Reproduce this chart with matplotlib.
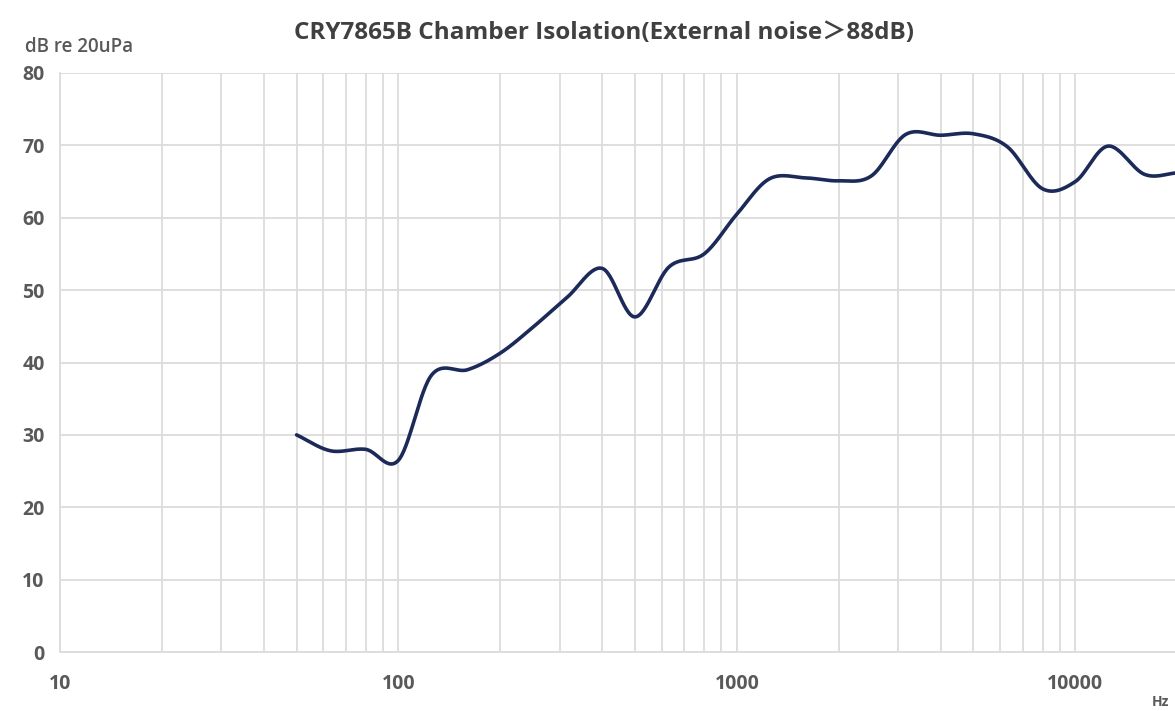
import numpy as np
import matplotlib
matplotlib.use("Agg")
import matplotlib.pyplot as plt
from matplotlib.ticker import FixedLocator, NullFormatter

# 1/3-octave frequencies (Hz) and isolation (dB)
freqs = [50, 63, 80, 100, 125, 160, 200, 250, 315, 400, 500, 630, 800,
         1000, 1250, 1600, 2000, 2500, 3150, 4000, 5000, 6300, 8000,
         10000, 12500, 16000, 20000]
isolation = [30.0, 27.8, 28.0, 26.5, 38.2, 39.0, 41.3, 44.9, 49.0, 53.0, 46.3, 53.2, 55.0,
             60.5, 65.4, 65.5, 65.1, 65.8, 71.5, 71.4, 71.6, 69.8, 64.0,
             65.0, 69.9, 66.0, 66.2]
x_ticks = [10, 100, 1000, 10000]
x_tick_labels = ["10", "100", "1000", "10000"]
y_ticks = [0, 10, 20, 30, 40, 50, 60, 70, 80]

title = "CRY7865B Chamber Isolation(External noise\uff1e88dB)"


def catmull_rom(xs, ys, n=30):
    xs = np.asarray(xs, float); ys = np.asarray(ys, float)
    px = np.concatenate([[2 * xs[0] - xs[1]], xs, [2 * xs[-1] - xs[-2]]])
    py = np.concatenate([[2 * ys[0] - ys[1]], ys, [2 * ys[-1] - ys[-2]]])
    ox, oy = [], []
    t = np.linspace(0, 1, n, endpoint=False)
    for i in range(1, len(px) - 2):
        for arr, out in ((px, ox), (py, oy)):
            p0, p1, p2, p3 = arr[i - 1], arr[i], arr[i + 1], arr[i + 2]
            m1 = (p2 - p0) / 2.0
            m2 = (p3 - p1) / 2.0
            h00 = 2 * t**3 - 3 * t**2 + 1
            h10 = t**3 - 2 * t**2 + t
            h01 = -2 * t**3 + 3 * t**2
            h11 = t**3 - t**2
            out.extend(h00 * p1 + h10 * m1 + h01 * p2 + h11 * m2)
    ox.append(xs[-1]); oy.append(ys[-1])
    return np.array(ox), np.array(oy)


plt.rcParams['font.family'] = ['Open Sans', 'Noto Sans CJK SC', 'DejaVu Sans']

fig = plt.figure(figsize=(11.75, 7.11), dpi=100)
ax = fig.add_axes([60 / 1175, 1 - 652 / 711, 1 - 60 / 1175, (652 - 73) / 711])

lx, ly = catmull_rom(np.log10(freqs), isolation)
ax.plot(10 ** lx, ly, color="#1c2a5a", lw=2.6, solid_capstyle="round", zorder=3, clip_on=False)

ax.set_xscale("log")
ax.set_xlim(10, 19700)
ax.set_ylim(0, 80)
ax.xaxis.set_major_locator(FixedLocator(x_ticks))
ax.set_xticklabels(x_tick_labels)
ax.xaxis.set_minor_locator(FixedLocator([m * 10 ** e for e in range(1, 5) for m in range(2, 10)]))
ax.xaxis.set_minor_formatter(NullFormatter())
ax.set_yticks(y_ticks)

grid_c = "#dcdcdc"
ax.grid(True, which="both", axis="x", color=grid_c, lw=1.3)
ax.grid(True, which="major", axis="y", color=grid_c, lw=1.3)
ax.set_axisbelow(True)
for s in ["top", "right"]:
    ax.spines[s].set_visible(False)
for s in ["left", "bottom"]:
    ax.spines[s].set_color(grid_c)
    ax.spines[s].set_linewidth(1.3)
ax.tick_params(which="both", length=0)
ax.tick_params(axis="y", pad=11, labelsize=14, labelcolor="#595959")
ax.tick_params(axis="x", pad=16, labelsize=14, labelcolor="#595959")
for lab in ax.get_xticklabels() + ax.get_yticklabels():
    lab.set_fontweight("bold")

fig.text(25 / 1175, 1 - 47 / 711, "dB re 20uPa", fontsize=13.5, color="#595959",
         fontweight="semibold", va="center", ha="left")
fig.text(604 / 1175, 1 - 33 / 711, title, fontsize=17.5, fontweight="bold",
         color="#404040", ha="center", va="center")
fig.text(1152 / 1175, 1 - 702 / 711, "Hz", fontsize=10, fontweight="bold",
         color="#595959", ha="left", va="center")

fig.savefig("out.png", dpi=100)
